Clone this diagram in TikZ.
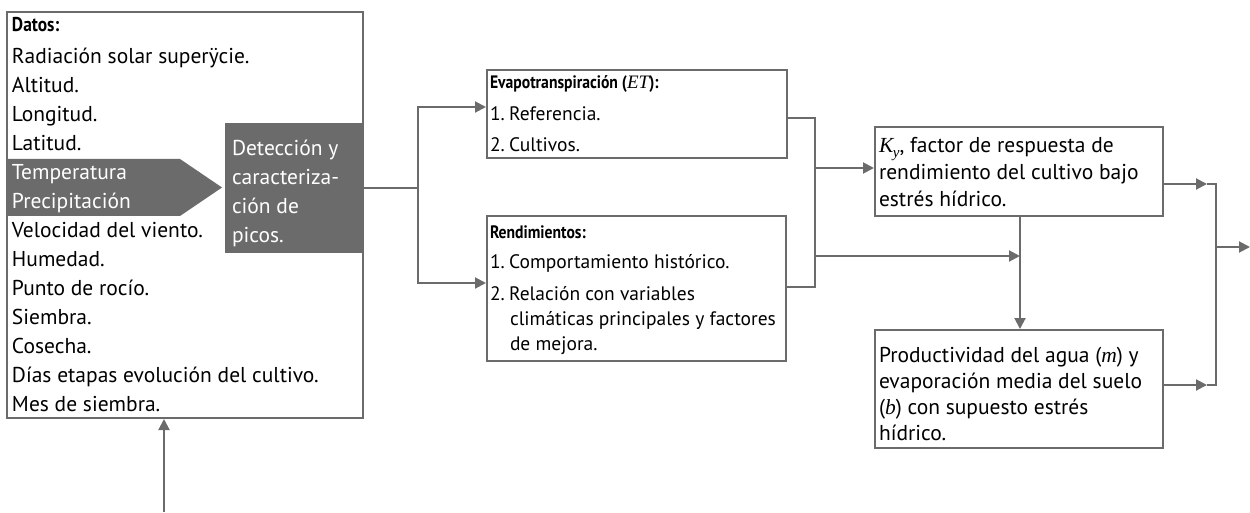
\documentclass[tikz,border=0pt]{standalone}
\usepackage{fontspec}
\setmainfont{PT Sans}
\newfontfamily\hdfont{PT Sans}[FakeStretch=0.87]
\newfontfamily\tms{Liberation Serif}
\usetikzlibrary{arrows.meta}
\definecolor{lc}{HTML}{6B6B6B}
\newcommand{\nsp}{\hspace{0.22em}}
\begin{document}
\begin{tikzpicture}[x=1pt,y=-1pt,
  ln/.style={draw=lc, line width=2pt},
  arr/.style={ln, -{Triangle[length=11pt,width=11pt]}},
  box/.style={draw=lc, line width=2pt, fill=white, inner sep=0pt},
  big/.style={font=\fontsize{21.5}{26}\selectfont},
  mid/.style={font=\fontsize{19.5}{22}\selectfont},
  hdbig/.style={font=\hdfont\bfseries\fontsize{20}{22}\selectfont},
  hdmid/.style={font=\hdfont\bfseries\fontsize{18}{20}\selectfont},
  txt/.style={anchor=base west, inner sep=0pt, outer sep=0pt}]
\useasboundingbox (0,0) rectangle (1250,513);

% ---------- left data box ----------
\node[box, minimum width=356pt, minimum height=406pt] (datos) at (185,215) {};
\fill[lc] (7,159) -- (180,159) -- (222,187.5) -- (180,216) -- (7,216) -- cycle;
\node[txt, hdbig] (d0) at (12,32) {Datos:};
\foreach [count=\i] \t in {Radiación solar superÿcie., Altitud., Longitud., Latitud.,
  {\color{white}Temperatura}, {\color{white}Precipitación}, Velocidad del viento.,
  Humedad., Punto de rocío., Siembra., Cosecha., Días etapas evolución del cultivo.,
  Mes de siembra.}
  \node[txt, big] (d\i) at (12,{63.5+29*(\i-1)}) {\t};

% ---------- detection box ----------
\node[fill=lc, inner sep=0pt, minimum width=138pt, minimum height=130pt] (det) at (294,188) {};
\foreach [count=\i] \t in {Detección y, caracteriza-, ción de, picos.}
  \node[txt, big, text=white] (p\i) at (232,{156+28.7*(\i-1)}) {\t};

% ---------- ET box ----------
\node[box, minimum width=300pt, minimum height=88pt] (et) at (637,114) {};
\node[txt, hdmid] (e0) at (490,89) {Evapotranspiración ({\tms\mdseries\itshape\fontsize{19}{20}\selectfont ET}):};
\node[txt, mid] (e1) at (490,121) {1.\nsp Referencia.};
\node[txt, mid] (e2) at (490,152) {2.\nsp Cultivos.};

% ---------- Rendimientos box ----------
\node[box, minimum width=299pt, minimum height=145pt] (rend) at (636.5,288.5) {};
\node[txt, hdmid] (r0) at (490,239) {Rendimientos:};
\node[txt, mid] (r1) at (490,268) {1.\nsp Comportamiento histórico.};
\node[txt, mid] (r2) at (490,300) {2.\nsp Relación con variables};
\node[txt, mid] (r3) at (510,325) {climáticas principales y factores};
\node[txt, mid] (r4) at (510,350) {de mejora.};

% ---------- Ky box ----------
\node[box, minimum width=288pt, minimum height=89pt] (ky) at (1019,171.5) {};
\node[txt, big] (k1) at (879,153) {{\tms\itshape K\kern-0.5pt\raisebox{-5pt}{\fontsize{15}{15}\selectfont y}},\ factor de respuesta de};
\node[txt, big] (k2) at (879,180) {rendimiento del cultivo bajo};
\node[txt, big] (k3) at (879,207) {estrés hídrico.};

% ---------- productivity box ----------
\node[box, minimum width=288pt, minimum height=118pt] (prod) at (1019,389) {};
\node[txt, big] (m1) at (879,362) {Productividad del agua ({\tms\itshape m}) y};
\node[txt, big] (m2) at (879,388) {evaporación media del suelo};
\node[txt, big] (m3) at (879,414) {({\tms\itshape b}) con supuesto estrés};
\node[txt, big] (m4) at (879,440) {hídrico.};

% ---------- connectors ----------
\coordinate (j1) at (418,188);
\coordinate (j1a) at (418,107);
\coordinate (j1b) at (418,283);
\draw[ln] (det.east) -- (j1);
\draw[arr] (j1) |- (et.west |- j1a);
\draw[arr] (j1) |- (rend.west |- j1b);

\coordinate (j2a) at (815,118);
\coordinate (j2b) at (815,287);
\coordinate (j2c) at (815,168);
\coordinate (j2d) at (815,256);
\draw[ln] (et.east |- j2a) -| (j2b) -- (rend.east |- j2b);
\draw[arr] (j2c) -- (ky.west |- j2c);
\coordinate (j3) at (1020,256);
\draw[arr] (j2d) -- (j3);
\draw[arr] (ky.south -| j3) -- (prod.north -| j3);

\coordinate (j4a) at (1216,184);
\coordinate (j4b) at (1216,385);
\coordinate (j4c) at (1216,247);
\coordinate (t1) at (1207,184);
\coordinate (t2) at (1207,385);
\coordinate (out) at (1250,247);
\draw[ln] (t1) -- (j4a) -- (j4b) -- (t2);
\draw[arr] (ky.east |- j4a) -- (t1);
\draw[arr] (prod.east |- j4b) -- (t2);
\draw[arr] (j4c) -- (out);

\coordinate (in) at (164,512);
\draw[arr] (in) -- (datos.south -| in);
\end{tikzpicture}
\end{document}
